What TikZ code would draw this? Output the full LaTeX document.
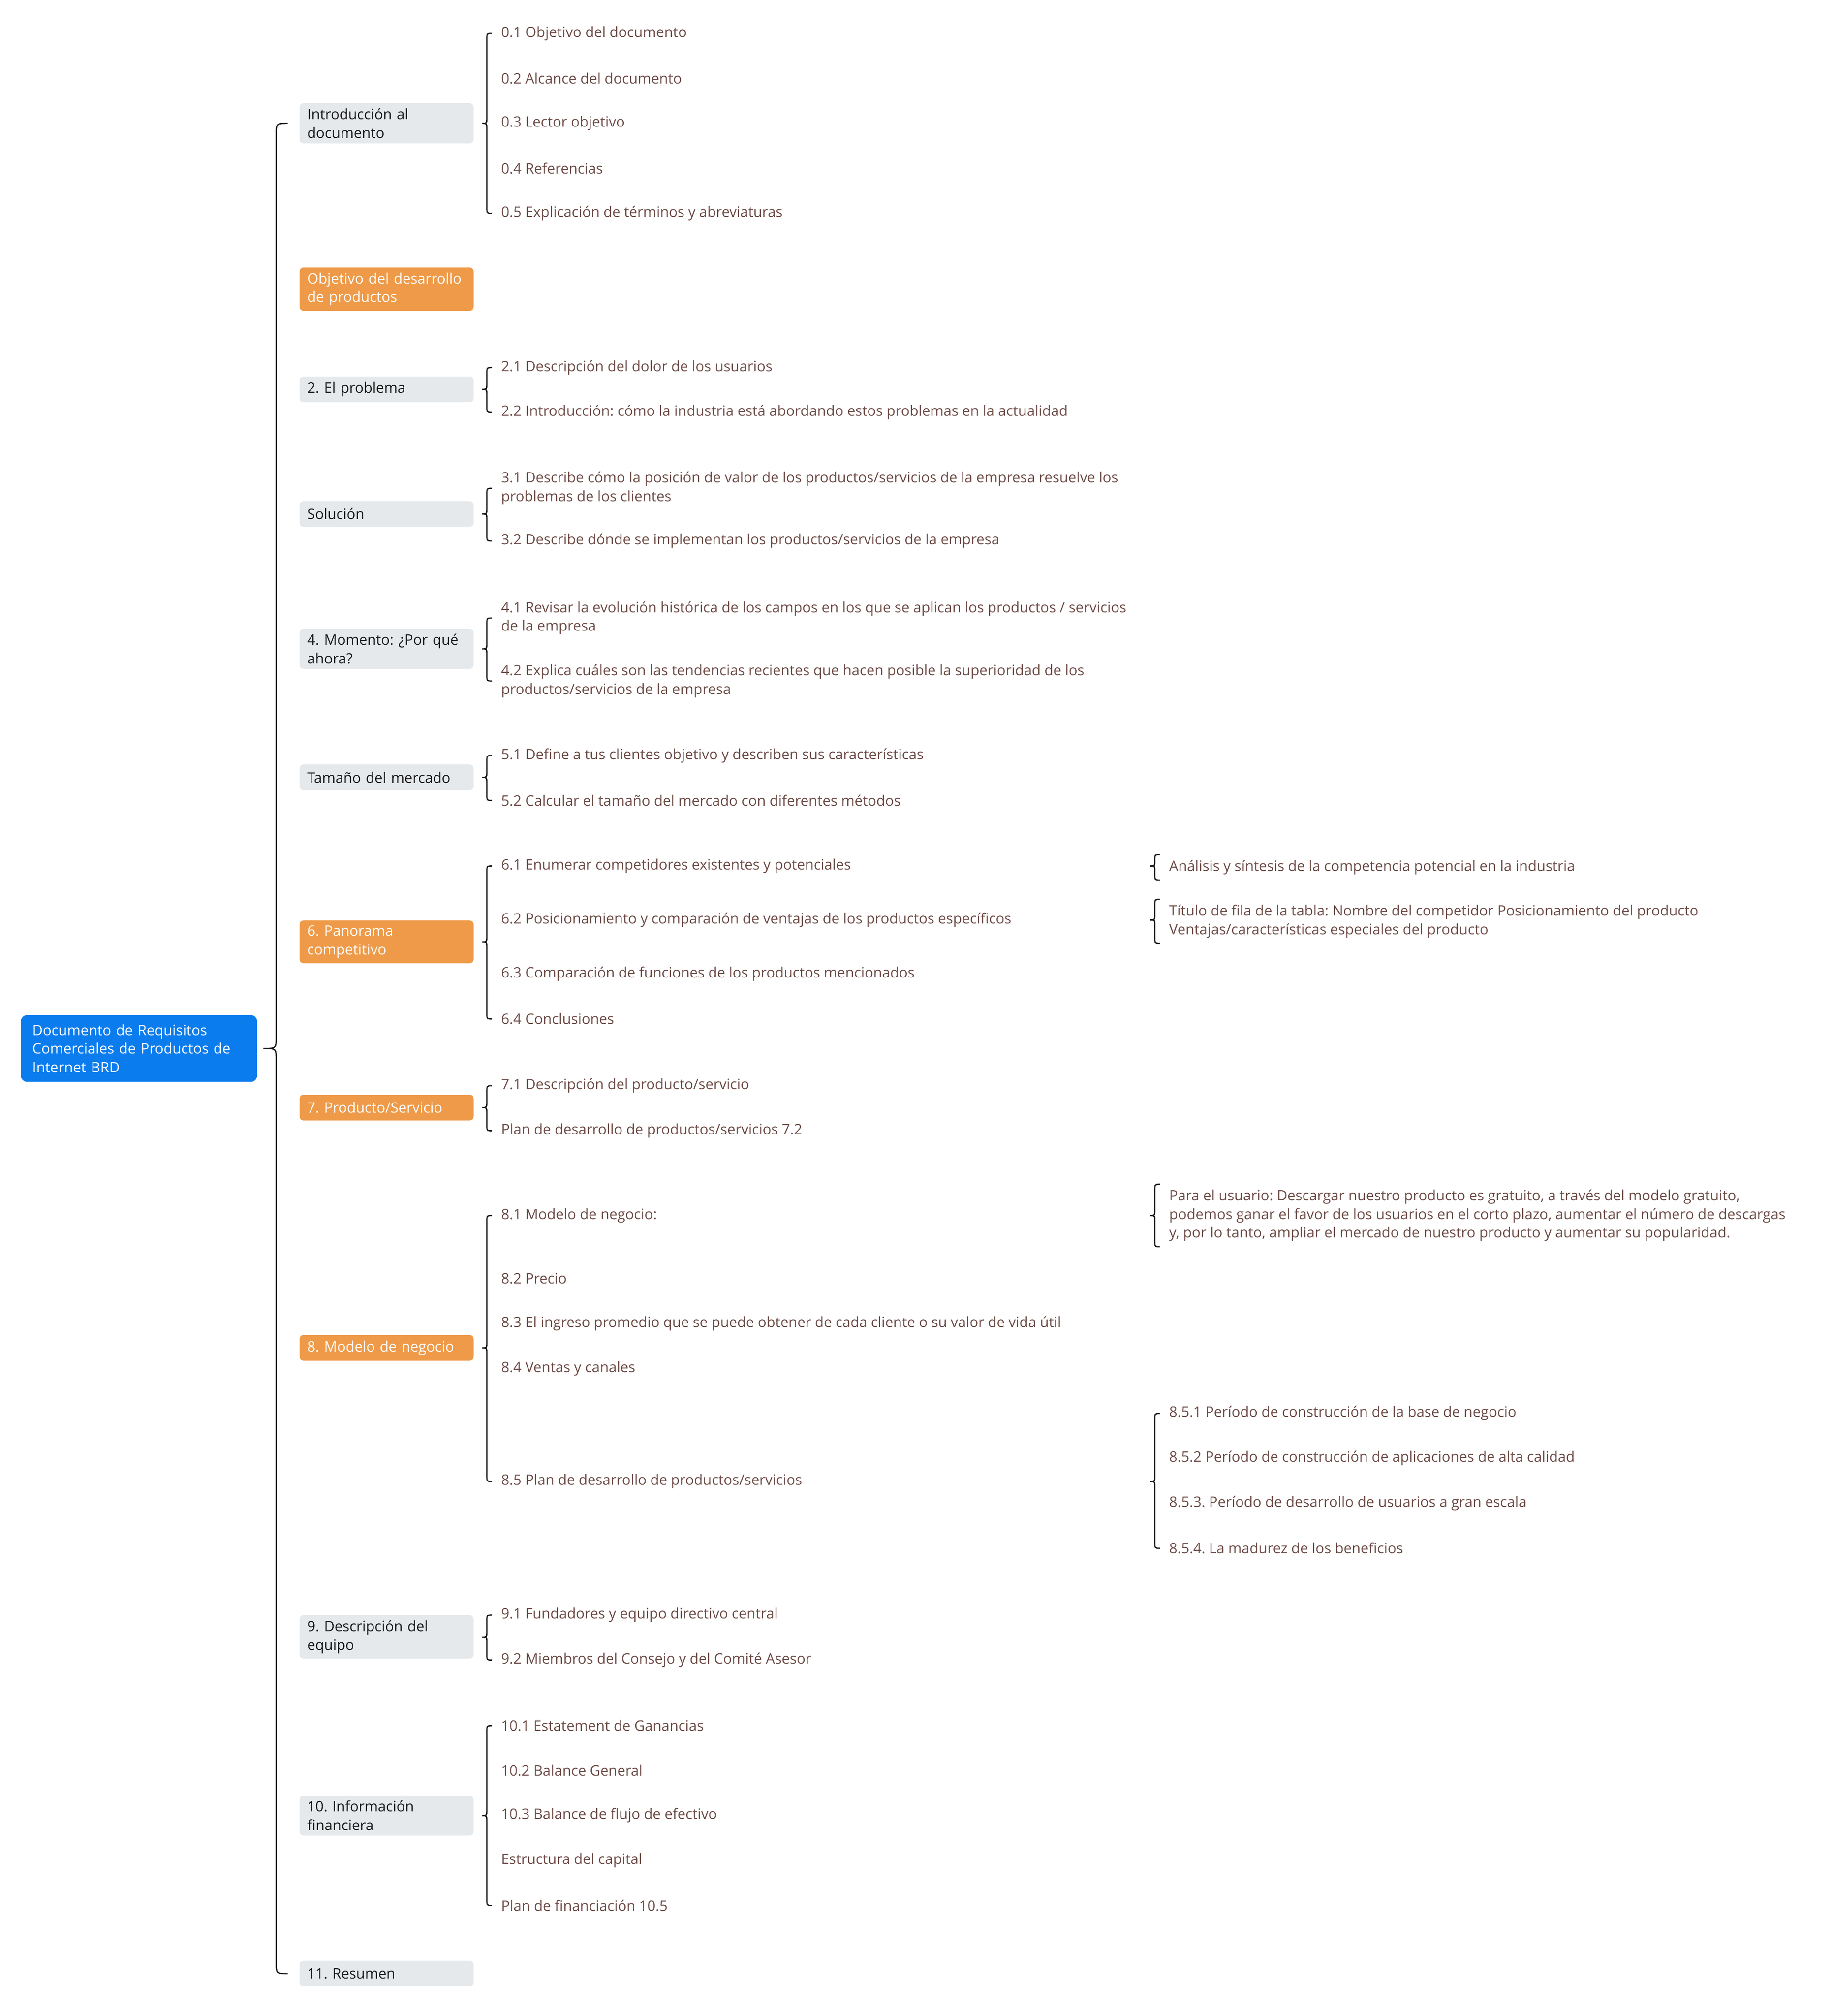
\documentclass[tikz,border=0pt]{standalone}
\usepackage{fontspec}
\setmainfont{Open Sans}
\usetikzlibrary{calc}
\frenchspacing

\definecolor{rootBlue}{HTML}{0B7CEE}
\definecolor{hotOrange}{HTML}{EE9A48}
\definecolor{paleGray}{HTML}{E6E9EC}
\definecolor{leafBrown}{HTML}{6D4B46}

\tikzstyle{rootBox} = [rectangle, rounded corners=5pt, fill=rootBlue, text=white, text width=166pt, inner xsep=9pt, inner ysep=5pt, minimum height=52pt, align=left, font=\fontsize{11.2}{14.5}\selectfont]
\tikzstyle{topicBox} = [rectangle, rounded corners=3pt, anchor=west, text width=123.5pt, inner xsep=6pt, inner ysep=4pt, minimum height=20pt, align=left, font=\fontsize{11.2}{14.5}\selectfont]
\tikzstyle{topicGray} = [topicBox, fill=paleGray, text=black!90]
\tikzstyle{topicOrange} = [topicBox, fill=hotOrange, text=white]
\tikzstyle{leaf} = [anchor=west, inner xsep=0pt, inner ysep=4pt, align=left, text=leafBrown, font=\fontsize{11.2}{14.5}\selectfont]
\tikzstyle{bracket} = [line width=1pt, black!90]

% curly brace from a parent to its first and last child
% #1 parent, #2 top point, #3 bottom point, #4 end gap, #5 stem gap, #6 tip gap, #7 curl
\newcommand{\curlyLink}[7]{%
  \draw[bracket] let \p1=(#1.east), \p2=(#2), \p3=(#3) in
    (\x2-#4,\y2) .. controls (\x2-#5,\y2) .. (\x2-#5,\y2-#7)
    -- (\x2-#5,\y1+#7) .. controls (\x2-#5,\y1) .. (\x2-#6,\y1)
    .. controls (\x2-#5,\y1) .. (\x2-#5,\y1-#7)
    -- (\x2-#5,\y3+#7) .. controls (\x2-#5,\y3) .. (\x2-#4,\y3);}

\begin{document}
\begin{tikzpicture}[x=1pt, y=-1pt]

\useasboundingbox (0,0) rectangle (1426,1569);

\node (root) [rootBox, anchor=west] at (16,816) {Documento de Requisitos\\Comerciales de Productos de\\Internet BRD};

% first level
\node (intro) [topicGray] at (233,96) {Introducción al\\documento};
\node (objetivo) [topicOrange] at (233,225) {Objetivo del desarrollo\\de productos};
\node (problema) [topicGray] at (233,303) {2. El problema};
\node (solucion) [topicGray] at (233,400) {Solución};
\node (momento) [topicGray] at (233,505) {4. Momento: ¿Por qué\\ahora?};
\node (mercado) [topicGray] at (233,605) {Tamaño del mercado};
\node (panorama) [topicOrange] at (233,733) {6. Panorama\\competitivo};
\node (producto) [topicOrange] at (233,862) {7. Producto/Servicio};
\node (negocio) [topicOrange] at (233,1049) {8. Modelo de negocio};
\node (equipo) [topicGray] at (233,1274) {9. Descripción del\\equipo};
\node (finanzas) [topicGray] at (233,1413) {10. Información\\financiera};
\node (resumen) [topicGray] at (233,1536) {11. Resumen};

% second level
\node (intro1) [leaf] at (390,26) {0.1 Objetivo del documento};
\node (intro2) [leaf] at (390,61) {0.2 Alcance del documento};
\node (intro3) [leaf] at (390,96) {0.3 Lector objetivo};
\node (intro4) [leaf] at (390,131) {0.4 Referencias};
\node (intro5) [leaf] at (390,166) {0.5 Explicación de términos y abreviaturas};

\node (problema1) [leaf] at (390,286) {2.1 Descripción del dolor de los usuarios};
\node (problema2) [leaf] at (390,321) {2.2 Introducción: cómo la industria está abordando estos problemas en la actualidad};

\node (solucion1) [leaf] at (390,380) {3.1 Describe cómo la posición de valor de los productos/servicios de la empresa resuelve los\\problemas de los clientes};
\node (solucion2) [leaf] at (390,421) {3.2 Describe dónde se implementan los productos/servicios de la empresa};

\node (momento1) [leaf] at (390,481) {4.1 Revisar la evolución histórica de los campos en los que se aplican los productos / servicios\\de la empresa};
\node (momento2) [leaf] at (390,530) {4.2 Explica cuáles son las tendencias recientes que hacen posible la superioridad de los\\productos/servicios de la empresa};

\node (mercado1) [leaf] at (390,588) {5.1 Define a tus clientes objetivo y describen sus características};
\node (mercado2) [leaf] at (390,623) {5.2 Calcular el tamaño del mercado con diferentes métodos};

\node (panorama1) [leaf] at (390,674) {6.1 Enumerar competidores existentes y potenciales};
\node (panorama2) [leaf] at (390,716) {6.2 Posicionamiento y comparación de ventajas de los productos específicos};
\node (panorama3) [leaf] at (390,758) {6.3 Comparación de funciones de los productos mencionados};
\node (panorama4) [leaf] at (390,793) {6.4 Conclusiones};

\node (producto1) [leaf] at (390,845) {7.1 Descripción del producto/servicio};
\node (producto2) [leaf] at (390,880) {Plan de desarrollo de productos/servicios 7.2};

\node (negocio1) [leaf] at (390,946) {8.1 Modelo de negocio:};
\node (negocio2) [leaf] at (390,995) {8.2 Precio};
\node (negocio3) [leaf] at (390,1030) {8.3 El ingreso promedio que se puede obtener de cada cliente o su valor de vida útil};
\node (negocio4) [leaf] at (390,1065) {8.4 Ventas y canales};
\node (negocio5) [leaf] at (390,1153) {8.5 Plan de desarrollo de productos/servicios};

\node (equipo1) [leaf] at (390,1257) {9.1 Fundadores y equipo directivo central};
\node (equipo2) [leaf] at (390,1292) {9.2 Miembros del Consejo y del Comité Asesor};

\node (finanzas1) [leaf] at (390,1343) {10.1 Estatement de Ganancias};
\node (finanzas2) [leaf] at (390,1378) {10.2 Balance General};
\node (finanzas3) [leaf] at (390,1413) {10.3 Balance de flujo de efectivo};
\node (finanzas4) [leaf] at (390,1448) {Estructura del capital};
\node (finanzas5) [leaf] at (390,1483) {Plan de financiación 10.5};

% third level
\node (panoramaA) [leaf] at (910,675) {Análisis y síntesis de la competencia potencial en la industria};
\node (panoramaB) [leaf] at (910,717) {Título de fila de la tabla: Nombre del competidor Posicionamiento del producto\\Ventajas/características especiales del producto};
\node (negocioA) [leaf] at (910,946) {Para el usuario: Descargar nuestro producto es gratuito, a través del modelo gratuito,\\podemos ganar el favor de los usuarios en el corto plazo, aumentar el número de descargas\\y, por lo tanto, ampliar el mercado de nuestro producto y aumentar su popularidad.};
\node (negocio51) [leaf] at (910,1100) {8.5.1 Período de construcción de la base de negocio};
\node (negocio52) [leaf] at (910,1135) {8.5.2 Período de construcción de aplicaciones de alta calidad};
\node (negocio53) [leaf] at (910,1170) {8.5.3. Período de desarrollo de usuarios a gran escala};
\node (negocio54) [leaf] at (910,1205) {8.5.4. La madurez de los beneficios};

% braces
\curlyLink{root}{intro.west}{resumen.west}{9pt}{18pt}{28pt}{9pt}
\curlyLink{intro}{intro1.west}{intro5.west}{7pt}{11pt}{14.5pt}{5pt}
\curlyLink{problema}{problema1.west}{problema2.west}{7pt}{11pt}{14.5pt}{5pt}
\curlyLink{solucion}{solucion1.west}{solucion2.west}{7pt}{11pt}{14.5pt}{5pt}
\curlyLink{momento}{momento1.west}{momento2.west}{7pt}{11pt}{14.5pt}{5pt}
\curlyLink{mercado}{mercado1.west}{mercado2.west}{7pt}{11pt}{14.5pt}{5pt}
\curlyLink{panorama}{panorama1.west}{panorama4.west}{7pt}{11pt}{14.5pt}{5pt}
\curlyLink{producto}{producto1.west}{producto2.west}{7pt}{11pt}{14.5pt}{5pt}
\curlyLink{negocio}{negocio1.west}{negocio5.west}{7pt}{11pt}{14.5pt}{5pt}
\curlyLink{equipo}{equipo1.west}{equipo2.west}{7pt}{11pt}{14.5pt}{5pt}
\curlyLink{finanzas}{finanzas1.west}{finanzas5.west}{7pt}{11pt}{14.5pt}{5pt}
\curlyLink{panorama1}{panoramaA.north west}{panoramaA.south west}{7pt}{11pt}{14.5pt}{4pt}
\curlyLink{panorama2}{panoramaB.north west}{panoramaB.south west}{7pt}{11pt}{14.5pt}{5pt}
\curlyLink{negocio1}{negocioA.north west}{negocioA.south west}{7pt}{11pt}{14.5pt}{5pt}
\curlyLink{negocio5}{negocio51.west}{negocio54.west}{7pt}{11pt}{14.5pt}{5pt}

\end{tikzpicture}
\end{document}
